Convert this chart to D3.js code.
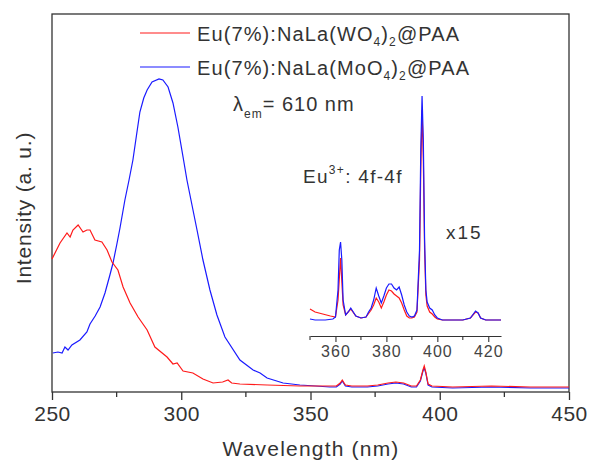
<!DOCTYPE html>
<html>
<head>
<meta charset="utf-8">
<script src="https://cdn.jsdelivr.net/npm/d3@7"></script>
<style>
  body { margin: 0; background: #fff; }
  svg { font-family: "Liberation Sans", Arial, sans-serif; }
</style>
</head>
<body>
<div id="chart"></div>
<script>
// main spectra: [wavelength nm, intensity a.u.]
var wlRed = [
  [250,133],[253.1,149],[255.8,159],[257,155],[258.1,162],[260.1,167],[262,160],[263.5,162],
  [264.7,162],[266.6,152],[269.3,150],[271.3,142],[273.2,130],[275.5,122],[277.5,105],[280.2,89],
  [283.3,75],[286.8,62],[289.8,45],[294.5,35],[296.8,28],[298.4,29],[300.7,21],[304.5,19],
  [308.4,13],[312.3,9],[316,10],[318.1,12],[319.5,9],[322.7,8],[333.2,7],[345.9,6],[355,6],
  [360,6],[361.5,9],[362.3,12],[363.5,7],[366,6],[372,6],[376,7],[380,9],[383,10],[386,9],
  [389,6],[391,6],[392.5,12],[393.5,22],[394,26],[394.6,20],[395.5,8],[397,6],[405,5],[420,6],
  [435,5],[450,5]
];
var wlBlue = [
  [250.3,39],[252.3,40],[253.9,39],[255,45],[256.2,42],[257.7,47],[260.8,52],[263.5,60],
  [264.7,68],[266.7,76],[268.6,85],[270.5,99],[272.4,117],[273.6,129],[275.1,148],[276.3,164],
  [278.2,192],[279.8,212],[281.3,232],[282.7,257],[284,280],[285.5,294],[286.8,302],[288.7,310],
  [291.4,313],[292.9,312],[294.9,305],[296.8,289],[298.7,265],[300.7,235],[302.2,212],[306.1,162],
  [308.4,132],[311.1,102],[313.8,77],[316.9,55],[322.7,32],[327.8,22],[330.5,19],[333.2,14],
  [339.4,9],[345.9,7],[352,6],[357.5,5],[360,5],[361.5,8],[362.3,11],[363.5,6],[366,5],[372,5],
  [376,6],[380,8],[383,9],[386,8],[389,5],[391,5],[392.5,11],[393.5,21],[394,24],[394.6,19],
  [395.5,7],[397,5],[405,4],[420,5],[435,4],[450,4]
];

// inset (x15) 350-425 nm
var insetRed = [
  [350,13],[352,10],[355,8],[358,6],[360,5],[361,22],[362,64],[363,17],[364,7],[366,13],
  [368,6],[370,4],[372,5],[374,12],[375,17],[376,24],[377,20],[378,14],[379,20],[380,27],
  [381,32],[382,31],[383,28],[384,26],[385,24],[386,19],[387,12],[388,6],[389,4],[390,4],
  [391,5],[392,10],[393,62],[393.5,152],[394,212],[394.5,162],[395,72],[395.5,27],[396,16],
  [397,10],[398,8],[399,5],[400,3],[402,2],[405,2],[410,2],[413,4],[415,10],[416,9],[417,4],
  [419,2],[422,2],[425,2]
];
var insetBlue = [
  [350,3],[352,2],[356,2],[359,3],[360,5],[361,32],[361.5,72],[362,80],[362.5,62],[363,22],
  [364,7],[365,10],[366,14],[367,10],[368,6],[370,4],[372,5],[373,10],[374,14],[375,22],
  [376,34],[377,26],[378,19],[379,26],[380,34],[381,38],[382,38],[383,34],[384,32],[385,35],
  [386,27],[387,17],[388,10],[389,6],[390,5],[391,6],[392,12],[393,72],[393.5,172],[394,226],
  [394.5,182],[395,82],[395.5,32],[396,20],[397,14],[398,12],[399,7],[400,4],[402,2],[405,2],
  [410,2],[413,4],[415,11],[416,9],[417,4],[419,2],[422,2],[425,2]
];

var xTicks = [250, 300, 350, 400, 450];
var xMinor = [275, 325, 375, 425];
var insetTicks = [360, 380, 400, 420];
var insetMinor = [350, 370, 390, 410];

var width = 592, height = 466;
var margin = {top: 14, right: 23, bottom: 74, left: 52};

var svg = d3.select("#chart")
  .append("svg")
    .attr("width", width)
    .attr("height", height);

var x = d3.scaleLinear()
  .domain([250, 450])
  .range([margin.left, width - margin.right]);

var y = d3.scaleLinear()
  .domain([0, 378])
  .range([height - margin.bottom, margin.top]);

var xi = d3.scaleLinear()
  .domain([350, 425])
  .range([310, 501]);

var yi = d3.scaleLinear()
  .domain([0, 226])
  .range([322, 96]);

var red = "#ff1a1a", blue = "#1a1aff", ink = "#333";

// frame
svg.append("rect")
  .attr("x", x(250)).attr("y", y(378))
  .attr("width", x(450) - x(250)).attr("height", y(0) - y(378))
  .attr("fill", "none").attr("stroke", ink).attr("stroke-width", 1.3);

// bottom axis
var xAxis = svg.append("g")
  .attr("transform", "translate(0," + y(0) + ")")
  .call(d3.axisBottom(x).tickValues(xTicks).tickSize(8).tickPadding(6).tickFormat(d3.format("d")));
xAxis.select(".domain").remove();
xAxis.selectAll("line").attr("stroke", ink).attr("stroke-width", 1.3);
xAxis.selectAll("text").attr("fill", ink)
  .style("font-size", "21px").style("letter-spacing", "0.5px")
  .style("font-family", "Liberation Sans, Arial");

svg.append("g")
  .selectAll("line")
  .data(xMinor)
  .enter()
  .append("line")
    .attr("x1", function (d) { return x(d); })
    .attr("x2", function (d) { return x(d); })
    .attr("y1", y(0))
    .attr("y2", y(0) + 5)
    .attr("stroke", ink).attr("stroke-width", 1.3);

// axis titles
svg.append("text")
  .attr("x", 311)
  .attr("y", 456)
  .attr("text-anchor", "middle")
  .attr("fill", ink)
  .style("font-size", "21px")
  .style("letter-spacing", "1.2px")
  .text("Wavelength (nm)");

svg.append("text")
  .attr("transform", "translate(31," + ((y(0) + y(378)) / 2 + 5) + ") rotate(-90)")
  .attr("text-anchor", "middle")
  .attr("fill", ink)
  .style("font-size", "21px")
  .style("letter-spacing", "0.8px")
  .text("Intensity (a. u.)");

var line = d3.line()
  .x(function (d) { return x(d[0]); })
  .y(function (d) { return y(d[1]); });

svg.append("path").datum(wlBlue)
  .attr("d", line).attr("fill", "none").attr("stroke", blue).attr("stroke-width", 1.2);
svg.append("path").datum(wlRed)
  .attr("d", line).attr("fill", "none").attr("stroke", red).attr("stroke-width", 1.2);

// inset
var lineInset = d3.line()
  .x(function (d) { return xi(d[0]); })
  .y(function (d) { return yi(d[1]); });

svg.append("path").datum(insetRed)
  .attr("d", lineInset).attr("fill", "none").attr("stroke", red).attr("stroke-width", 1.2);
svg.append("path").datum(insetBlue)
  .attr("d", lineInset).attr("fill", "none").attr("stroke", blue).attr("stroke-width", 1.2);

var insetAxis = svg.append("g")
  .attr("transform", "translate(0,336)")
  .call(d3.axisBottom(xi).tickValues(insetTicks).tickSize(6).tickSizeOuter(0).tickPadding(4));
insetAxis.select(".domain").attr("stroke", ink).attr("stroke-width", 1.1);
insetAxis.selectAll("line").attr("stroke", ink).attr("stroke-width", 1.1);
insetAxis.selectAll("text").attr("fill", "#444")
  .style("font-size", "16px").style("letter-spacing", "1px")
  .style("font-family", "Liberation Sans, Arial");

svg.append("g")
  .selectAll("line")
  .data(insetMinor)
  .enter()
  .append("line")
    .attr("x1", function (d) { return xi(d); })
    .attr("x2", function (d) { return xi(d); })
    .attr("y1", 336)
    .attr("y2", 340)
    .attr("stroke", ink).attr("stroke-width", 1.1);

// legend
var legend = [
  {color: red, anion: "WO", y: 33},
  {color: blue, anion: "MoO", y: 67}
];
legend.forEach(function (l) {
  svg.append("line")
    .attr("x1", 140).attr("x2", 190)
    .attr("y1", l.y).attr("y2", l.y)
    .attr("stroke", l.color).attr("stroke-width", 1.2);
  var t = svg.append("text")
    .attr("x", 197).attr("y", l.y + 8)
    .attr("fill", ink)
    .style("font-size", "20px")
    .style("letter-spacing", "1.1px");
  t.append("tspan").text("Eu(7%):NaLa(" + l.anion);
  t.append("tspan").attr("dy", 5).style("font-size", "12px").text("4");
  t.append("tspan").attr("dy", -5).text(")");
  t.append("tspan").attr("dy", 5).style("font-size", "12px").text("2");
  t.append("tspan").attr("dy", -5).text("@PAA");
});

// annotations
var lam = svg.append("text")
  .attr("x", 233).attr("y", 111)
  .attr("fill", ink)
  .style("font-size", "20px")
  .style("letter-spacing", "1px");
lam.append("tspan").text("λ");
lam.append("tspan").attr("dy", 7).style("font-size", "12px").text("em");
lam.append("tspan").attr("dy", -7).text("= 610 nm");

var eu = svg.append("text")
  .attr("x", 303).attr("y", 183)
  .attr("fill", ink)
  .style("font-size", "19px")
  .style("letter-spacing", "1.3px");
eu.append("tspan").text("Eu");
eu.append("tspan").attr("dy", -9).style("font-size", "12px").text("3+");
eu.append("tspan").attr("dy", 9).text(": 4f-4f");

svg.append("text")
  .attr("x", 446).attr("y", 239)
  .attr("fill", ink)
  .style("font-size", "19px")
  .style("letter-spacing", "2px")
  .text("x15");
</script>
</body>
</html>
